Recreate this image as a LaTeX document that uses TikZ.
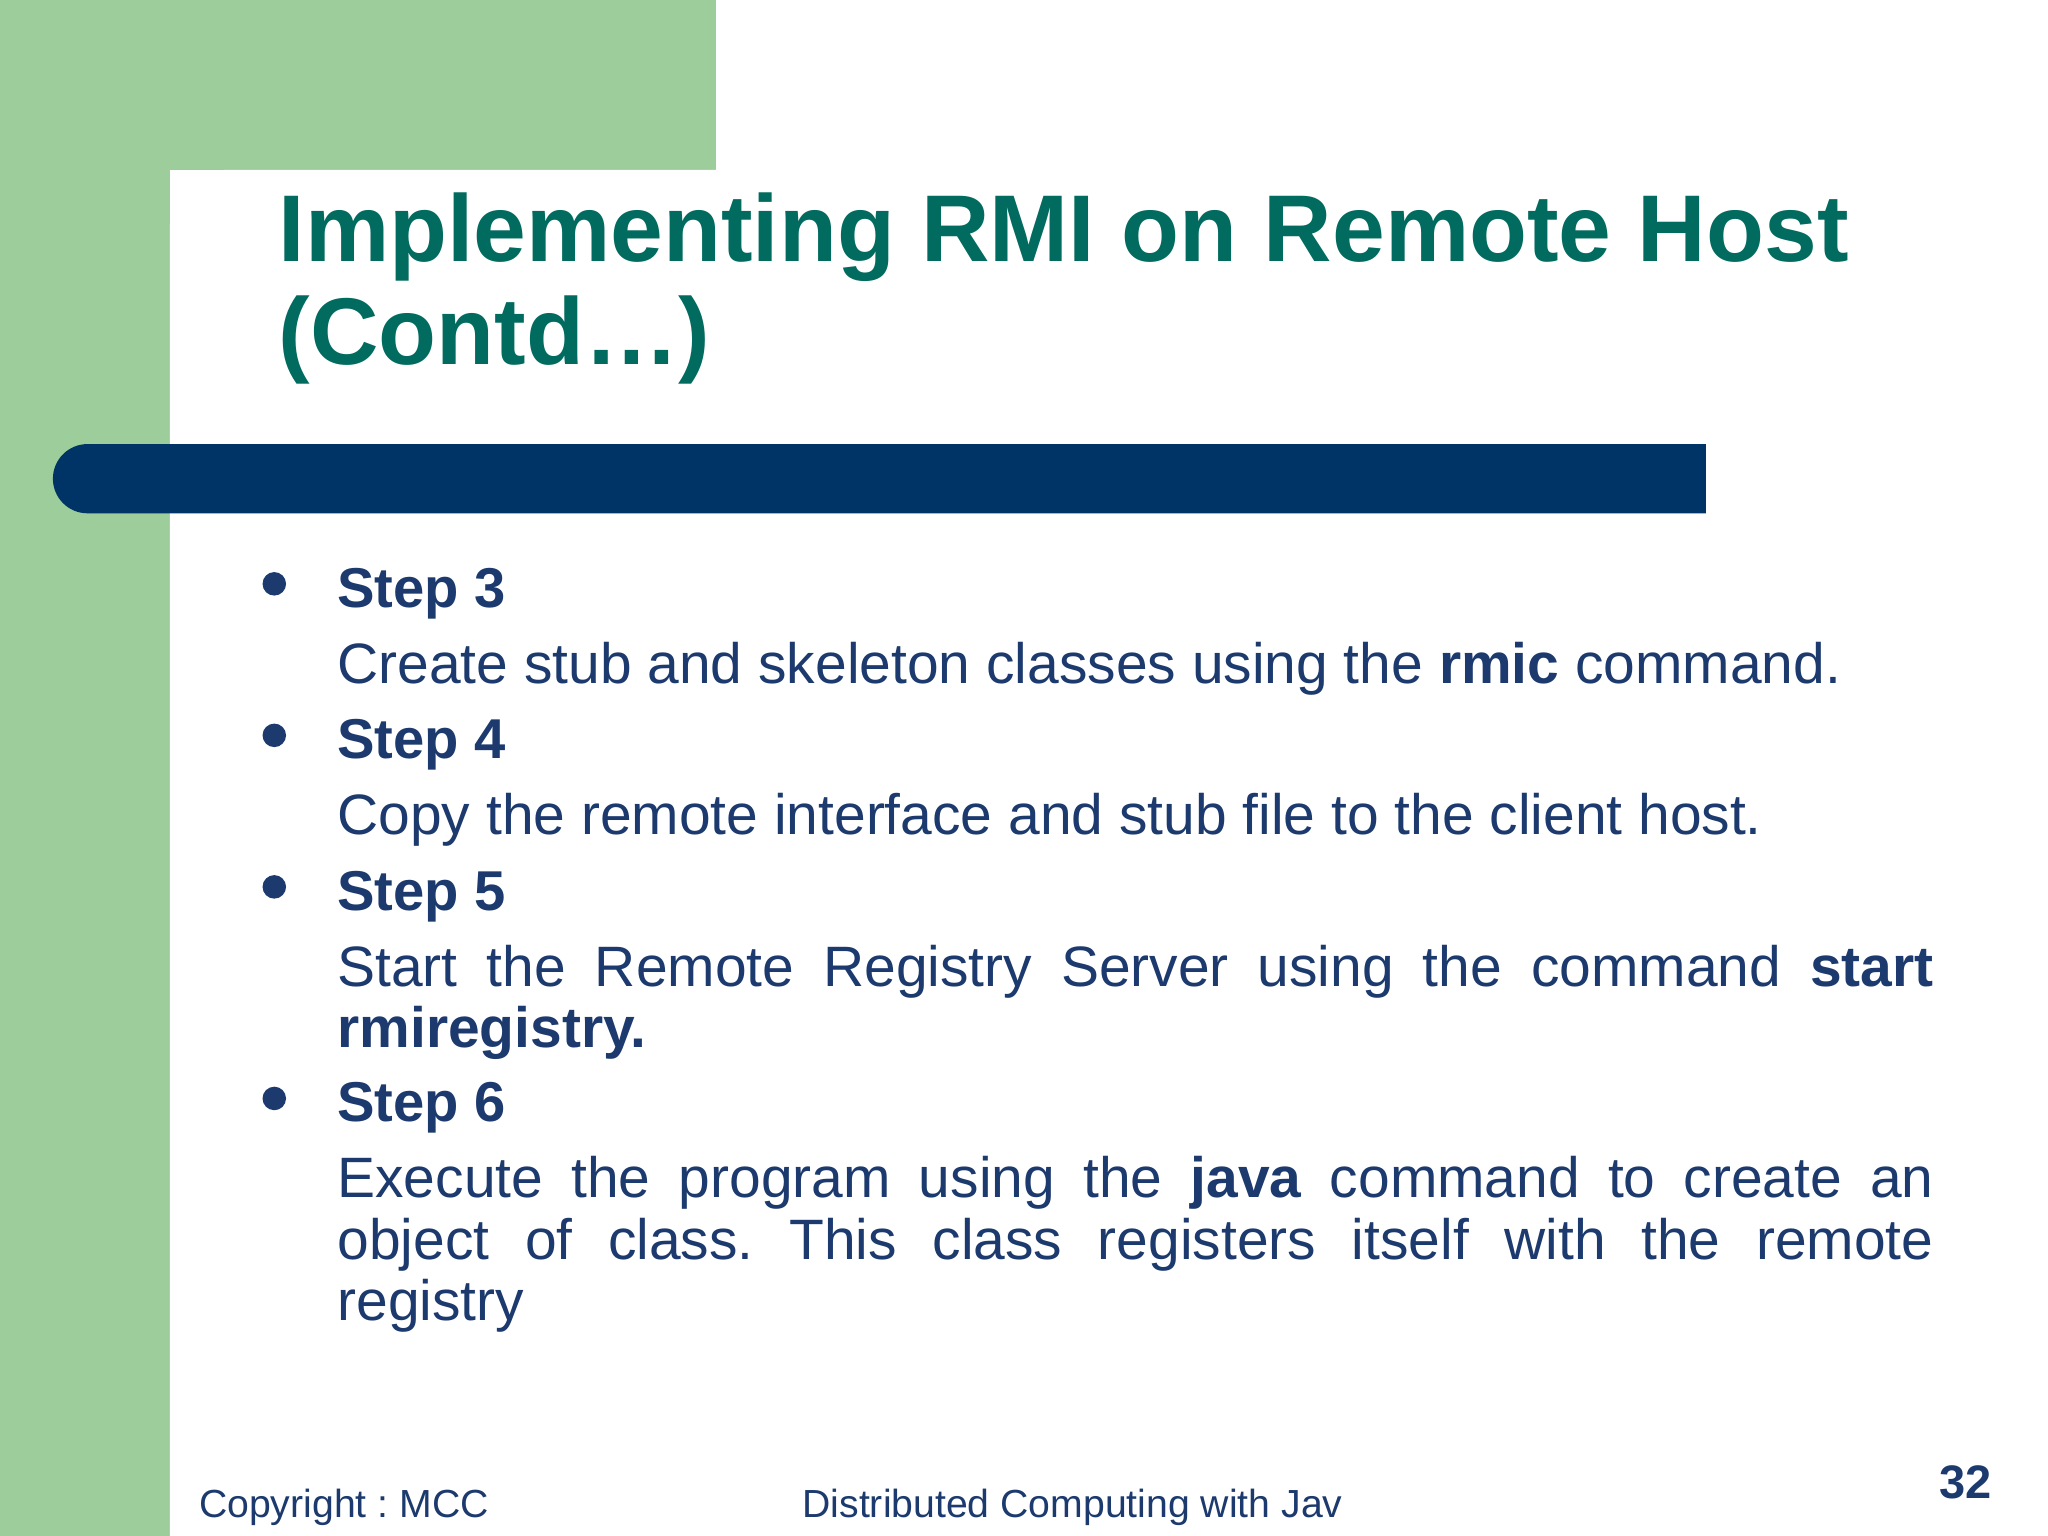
\documentclass[tikz,border=0pt]{standalone}
\usepackage{fontspec}
\setmainfont{Liberation Sans}
\definecolor{bggreen}{HTML}{9CCD9A}
\definecolor{titleteal}{HTML}{006B5E}
\definecolor{navy}{HTML}{003366}
\definecolor{txt}{HTML}{1C3A6E}
\tikzset{
  body/.style={anchor=base west,inner sep=0pt,text=txt,font=\fontsize{21.8}{25}\selectfont},
  steplabel/.style={body,font=\fontsize{21.5}{25}\selectfont\bfseries},
  bul/.style={circle,fill=txt,minimum size=9pt,inner sep=0pt},
  foot/.style={anchor=base west,inner sep=0pt,text=txt,font=\fontsize{15}{17}\selectfont}
}
\newcommand{\jline}[1]{\makebox[611pt][s]{#1}}
\frenchspacing
\begin{document}
\begin{tikzpicture}[x=0.5pt,y=-0.5pt]
\useasboundingbox (0,0) rectangle (1568,1176);
\fill[white] (0,0) rectangle (1568,1176);
\fill[bggreen] (0,0) rectangle (548,130);
\fill[bggreen] (0,0) rectangle (130,1176);
\fill[white] (130,1176) -- (130,175) arc[start angle=180,end angle=270,radius=45] -- (1568,130) -- (1568,1176) -- cycle;
% bar
\fill[navy] (1306,340) -- (67,340) arc[start angle=270,end angle=90,radius=26.5] -- (1306,393) -- cycle;
% title
\node[anchor=base west,inner sep=0pt,text=titleteal,font=\fontsize{36.3}{39}\selectfont\bfseries] (t1) at (213,200) {Implementing RMI on Remote Host};
\node[anchor=base west,inner sep=0pt,text=titleteal,font=\fontsize{36.3}{39}\selectfont\bfseries] (t2) at (213,279) {(Contd…)};
% bullets
\node[bul] (b3) at (210,447) {};
\node[bul] (b4) at (210,563) {};
\node[bul] (b5) at (210,679) {};
\node[bul] (b6) at (210,841) {};
\node[steplabel] (s3) at (258,465) {Step 3};
\node[body] (l3) at (258,523) {Create stub and skeleton classes using the \textbf{rmic} command.};
\node[steplabel] (s4) at (258,581) {Step 4};
\node[body] (l4) at (258,639) {Copy the remote interface and stub file to the client host.};
\node[steplabel] (s5) at (258,697) {Step 5};
\node[body] (l5a) at (258,755) {\jline{Start the Remote Registry Server using the command \textbf{start}}};
\node[body] (l5b) at (258,802) {\textbf{rmiregistry.}};
\node[steplabel] (s6) at (258,859) {Step 6};
\node[body] (l6a) at (258,917) {\jline{Execute the program using the \textbf{java} command to create an}};
\node[body] (l6b) at (258,964) {\jline{object of class. This class registers itself with the remote}};
\node[body] (l6c) at (258,1011) {registry};
% footer
\node[foot] (f1) at (152,1162) {Copyright : MCC};
\node[foot] (f2) at (614,1162) {Distributed Computing with Jav};
\node[anchor=base east,inner sep=0pt,text=txt,font=\fontsize{18}{20}\selectfont\bfseries] (pg) at (1525,1147) {32};
\end{tikzpicture}
\end{document}
